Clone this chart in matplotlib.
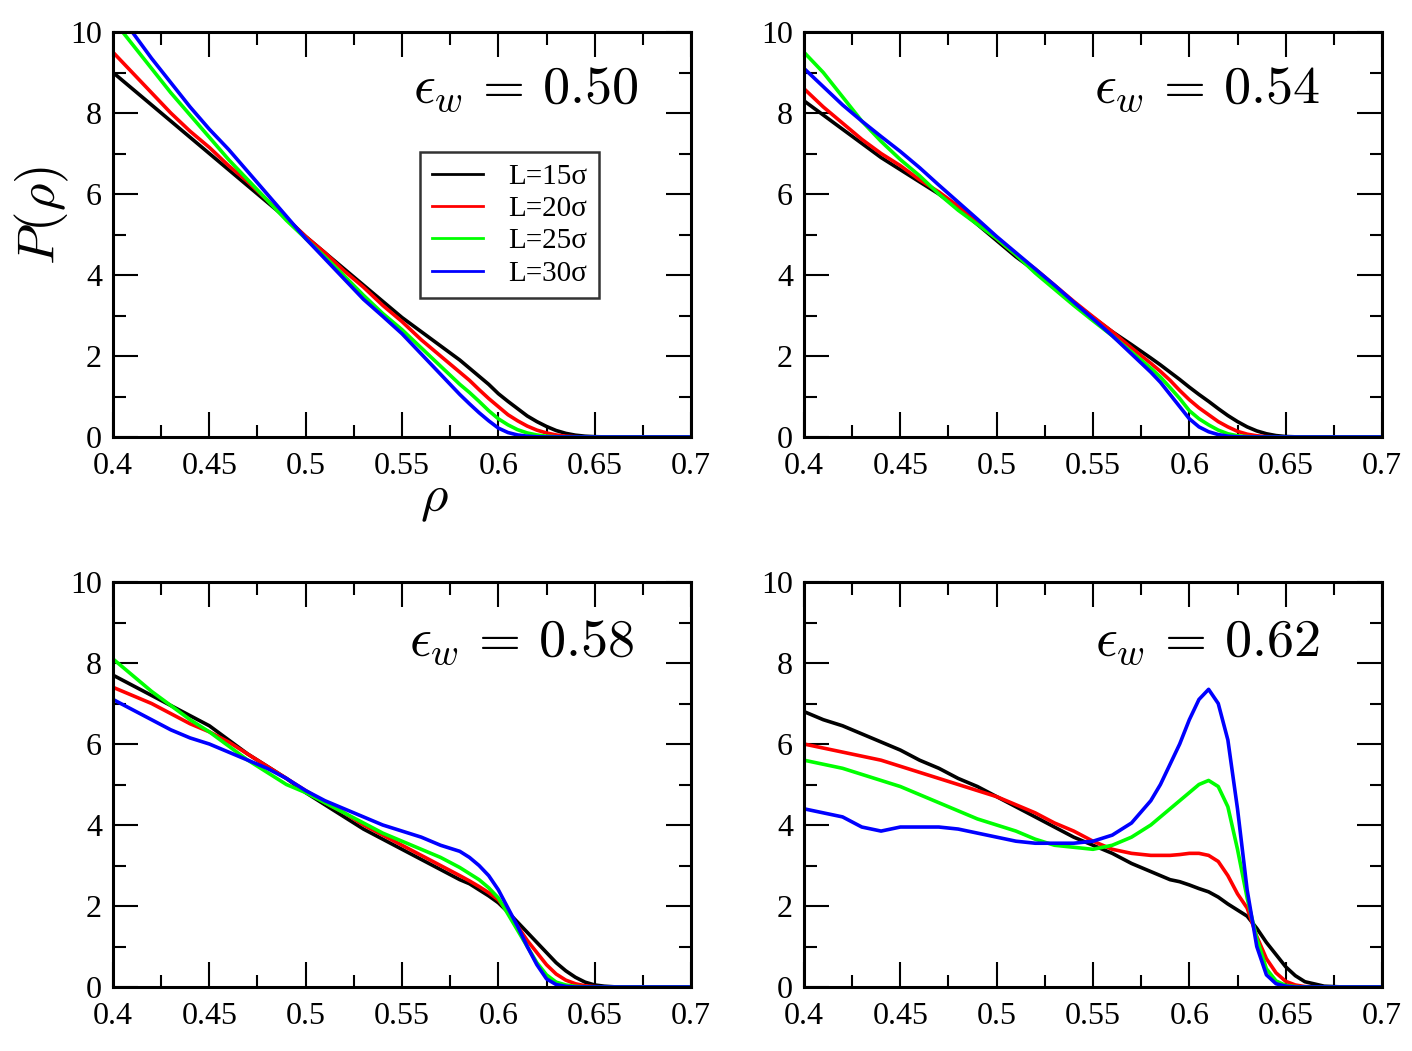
import matplotlib
matplotlib.use("Agg")
import matplotlib.pyplot as plt
from matplotlib.ticker import MultipleLocator, FixedLocator, FixedFormatter

plt.rcParams['font.family'] = ['Liberation Serif', 'DejaVu Serif']
plt.rcParams['mathtext.fontset'] = 'cm'

# common density grid (finer near the high-density tail)
rho = [0.40, 0.41, 0.42, 0.43, 0.44, 0.45, 0.46, 0.47, 0.48, 0.49,
       0.50, 0.51, 0.52, 0.53, 0.54, 0.55, 0.56, 0.57, 0.58,
       0.585, 0.59, 0.595, 0.60, 0.605, 0.61, 0.615, 0.62, 0.625, 0.63,
       0.635, 0.64, 0.645, 0.65, 0.655, 0.66, 0.67, 0.68, 0.69, 0.70]

labels = ["L=15\u03c3", "L=20\u03c3", "L=25\u03c3", "L=30\u03c3"]
colors = ["black", "#ff0000", "#00ff00", "#0000ff"]
eps_values = ["0.50", "0.54", "0.58", "0.62"]

# eps_w = 0.50
p050_L15 = [9.0, 8.6, 8.2, 7.8, 7.4, 7.0, 6.6, 6.2, 5.8, 5.4,
            4.95, 4.55, 4.15, 3.75, 3.35, 2.95, 2.6, 2.25, 1.9,
            1.7, 1.5, 1.3, 1.07, 0.88, 0.7, 0.52, 0.38, 0.26, 0.16,
            0.09, 0.045, 0.02, 0.008, 0.003, 0, 0, 0, 0, 0]
p050_L20 = [9.5, 9.0, 8.5, 8.0, 7.55, 7.15, 6.7, 6.3, 5.85, 5.4,
            4.95, 4.55, 4.1, 3.7, 3.25, 2.85, 2.4, 2.0, 1.6,
            1.4, 1.17, 0.95, 0.75, 0.55, 0.4, 0.27, 0.17, 0.1, 0.05,
            0.02, 0.008, 0.002, 0, 0, 0, 0, 0, 0, 0]
p050_L25 = [10.3, 9.7, 9.1, 8.5, 7.95, 7.4, 6.85, 6.35, 5.85, 5.35,
            4.9, 4.45, 3.98, 3.5, 3.05, 2.65, 2.2, 1.75, 1.3,
            1.1, 0.88, 0.65, 0.45, 0.3, 0.18, 0.1, 0.05, 0.02, 0.005,
            0, 0, 0, 0, 0, 0, 0, 0, 0, 0]
p050_L30 = [10.7, 10.0, 9.35, 8.75, 8.15, 7.6, 7.1, 6.55, 6.0, 5.45,
            4.9, 4.4, 3.9, 3.4, 2.98, 2.55, 2.05, 1.55, 1.05,
            0.82, 0.6, 0.4, 0.22, 0.11, 0.05, 0.02, 0.005, 0, 0,
            0, 0, 0, 0, 0, 0, 0, 0, 0, 0]

# eps_w = 0.54
p054_L15 = [8.3, 7.95, 7.6, 7.25, 6.9, 6.6, 6.3, 6.0, 5.65, 5.25,
            4.85, 4.45, 4.1, 3.7, 3.32, 2.95, 2.6, 2.28, 1.95,
            1.78, 1.6, 1.42, 1.23, 1.05, 0.88, 0.7, 0.53, 0.38, 0.25,
            0.15, 0.08, 0.035, 0.012, 0.004, 0, 0, 0, 0, 0]
p054_L20 = [8.6, 8.15, 7.75, 7.35, 7.0, 6.7, 6.35, 6.05, 5.7, 5.3,
            4.9, 4.5, 4.15, 3.75, 3.35, 2.97, 2.6, 2.2, 1.82,
            1.62, 1.4, 1.15, 0.92, 0.72, 0.55, 0.38, 0.25, 0.14, 0.07,
            0.03, 0.01, 0.003, 0, 0, 0, 0, 0, 0, 0]
p054_L25 = [9.5, 9.0, 8.4, 7.8, 7.3, 6.85, 6.45, 6.0, 5.6, 5.25,
            4.9, 4.5, 4.05, 3.65, 3.25, 2.87, 2.5, 2.1, 1.7,
            1.48, 1.22, 0.95, 0.65, 0.45, 0.3, 0.17, 0.08, 0.03, 0.01,
            0, 0, 0, 0, 0, 0, 0, 0, 0, 0]
p054_L30 = [9.1, 8.65, 8.2, 7.8, 7.42, 7.05, 6.65, 6.22, 5.8, 5.38,
            4.95, 4.55, 4.15, 3.75, 3.33, 2.92, 2.5, 2.05, 1.6,
            1.35, 1.05, 0.75, 0.45, 0.25, 0.13, 0.06, 0.02, 0.005, 0,
            0, 0, 0, 0, 0, 0, 0, 0, 0, 0]

# eps_w = 0.58
p058_L15 = [7.7, 7.45, 7.2, 6.95, 6.7, 6.45, 6.1, 5.75, 5.45, 5.15,
            4.8, 4.5, 4.2, 3.9, 3.65, 3.4, 3.15, 2.9, 2.65,
            2.55, 2.4, 2.25, 2.08, 1.85, 1.6, 1.35, 1.1, 0.85, 0.6,
            0.4, 0.24, 0.12, 0.05, 0.02, 0.005, 0, 0, 0, 0]
p058_L20 = [7.4, 7.2, 7.0, 6.75, 6.5, 6.3, 6.05, 5.75, 5.45, 5.15,
            4.85, 4.55, 4.3, 4.0, 3.75, 3.5, 3.25, 3.0, 2.75,
            2.62, 2.48, 2.33, 2.15, 1.85, 1.5, 1.15, 0.85, 0.55, 0.32,
            0.17, 0.08, 0.03, 0.01, 0, 0, 0, 0, 0, 0]
p058_L25 = [8.1, 7.7, 7.3, 6.95, 6.6, 6.3, 5.95, 5.6, 5.3, 5.0,
            4.8, 4.55, 4.3, 4.05, 3.8, 3.6, 3.4, 3.2, 2.95,
            2.8, 2.65, 2.45, 2.2, 1.8, 1.4, 1.0, 0.6, 0.3, 0.12,
            0.05, 0.015, 0.004, 0, 0, 0, 0, 0, 0, 0]
p058_L30 = [7.1, 6.85, 6.6, 6.35, 6.15, 6.0, 5.8, 5.6, 5.4, 5.15,
            4.85, 4.6, 4.4, 4.2, 4.0, 3.85, 3.7, 3.5, 3.35,
            3.2, 3.0, 2.75, 2.4, 1.95, 1.5, 1.0, 0.55, 0.2, 0.06,
            0.015, 0, 0, 0, 0, 0, 0, 0, 0, 0]

# eps_w = 0.62
p062_L15 = [6.8, 6.6, 6.45, 6.25, 6.05, 5.85, 5.6, 5.4, 5.15, 4.95,
            4.7, 4.45, 4.2, 3.95, 3.7, 3.5, 3.3, 3.05, 2.85,
            2.75, 2.65, 2.6, 2.52, 2.43, 2.35, 2.22, 2.05, 1.9, 1.75,
            1.45, 1.1, 0.8, 0.5, 0.28, 0.13, 0.02, 0, 0, 0]
p062_L20 = [6.0, 5.9, 5.8, 5.7, 5.6, 5.45, 5.3, 5.15, 5.0, 4.85,
            4.7, 4.5, 4.3, 4.05, 3.85, 3.6, 3.4, 3.3, 3.25,
            3.25, 3.25, 3.27, 3.3, 3.3, 3.25, 3.1, 2.75, 2.3, 1.95,
            1.25, 0.7, 0.35, 0.14, 0.05, 0.01, 0, 0, 0, 0]
p062_L25 = [5.6, 5.5, 5.4, 5.25, 5.1, 4.95, 4.75, 4.55, 4.35, 4.15,
            4.0, 3.85, 3.65, 3.5, 3.45, 3.4, 3.5, 3.7, 4.0,
            4.2, 4.4, 4.6, 4.8, 5.0, 5.1, 4.95, 4.45, 3.4, 2.2,
            1.2, 0.45, 0.15, 0.04, 0.01, 0, 0, 0, 0, 0]
p062_L30 = [4.4, 4.3, 4.2, 3.95, 3.85, 3.95, 3.95, 3.95, 3.9, 3.8,
            3.7, 3.6, 3.55, 3.55, 3.55, 3.6, 3.75, 4.05, 4.6,
            5.0, 5.5, 6.0, 6.6, 7.1, 7.35, 7.0, 6.1, 4.4, 2.4,
            1.0, 0.3, 0.08, 0.02, 0, 0, 0, 0, 0, 0]

panels = [
    [p050_L15, p050_L20, p050_L25, p050_L30],
    [p054_L15, p054_L20, p054_L25, p054_L30],
    [p058_L15, p058_L20, p058_L25, p058_L30],
    [p062_L15, p062_L20, p062_L25, p062_L30],
]

xticks = [0.4, 0.45, 0.5, 0.55, 0.6, 0.65, 0.7]
xticklabels = ["0.4", "0.45", "0.5", "0.55", "0.6", "0.65", "0.7"]
yticks = [0, 2, 4, 6, 8, 10]
yticklabels = ["0", "2", "4", "6", "8", "10"]

W, H = 1412, 1051
fig = plt.figure(figsize=(W / 100, H / 100), dpi=100)

# pixel boxes (left, right, top, bottom)
boxes = [(113, 691, 32, 437), (804, 1382, 32, 437),
         (113, 691, 582, 987), (804, 1382, 582, 987)]
label_pos = [(0.91, 0.825), (0.893, 0.825), (0.902, 0.817), (0.893, 0.817)]

axes = []
for i, (l, r, t, b) in enumerate(boxes):
    ax = fig.add_axes([l / W, 1 - b / H, (r - l) / W, (b - t) / H])
    for curve, c, lab in zip(panels[i], colors, labels):
        ax.plot(rho, curve, color=c, lw=2.6, label=lab)
    ax.set_xlim(0.4, 0.7)
    ax.set_ylim(0, 10)
    ax.xaxis.set_major_locator(FixedLocator(xticks))
    ax.xaxis.set_major_formatter(FixedFormatter(xticklabels))
    ax.xaxis.set_minor_locator(MultipleLocator(0.025))
    ax.yaxis.set_major_locator(FixedLocator(yticks))
    ax.yaxis.set_major_formatter(FixedFormatter(yticklabels))
    ax.yaxis.set_minor_locator(MultipleLocator(1))
    ax.tick_params(which='both', direction='in', top=True, right=True,
                   width=1.5, labelsize=23)
    ax.tick_params(which='major', length=18)
    ax.tick_params(which='minor', length=9)
    ax.tick_params(axis='x', pad=11)
    ax.tick_params(axis='y', pad=8)
    for s in ax.spines.values():
        s.set_linewidth(2.2)
    ax.text(label_pos[i][0], label_pos[i][1], r'$\epsilon_w\,=\,$' + r'$' + eps_values[i] + r'$',
            transform=ax.transAxes, ha='right', va='baseline', fontsize=39)
    axes.append(ax)

leg = axes[0].legend(loc='upper left', bbox_to_anchor=(0.531, 0.704),
                     borderaxespad=0, fontsize=21, frameon=True, fancybox=False,
                     edgecolor='black', handlelength=1.75, handletextpad=0.86,
                     labelspacing=0.2, borderpad=0.4)
leg.get_frame().set_linewidth(1.8)
for line in leg.get_lines():
    line.set_linewidth(2)

fig.text(42 / W, 1 - 215 / H, r'$P(\rho)$', rotation=90, ha='center', va='center', fontsize=38)
fig.text(434 / W, 1 - 500 / H, r'$\rho$', ha='center', va='center', fontsize=38)

fig.savefig("out.png", dpi=100)
